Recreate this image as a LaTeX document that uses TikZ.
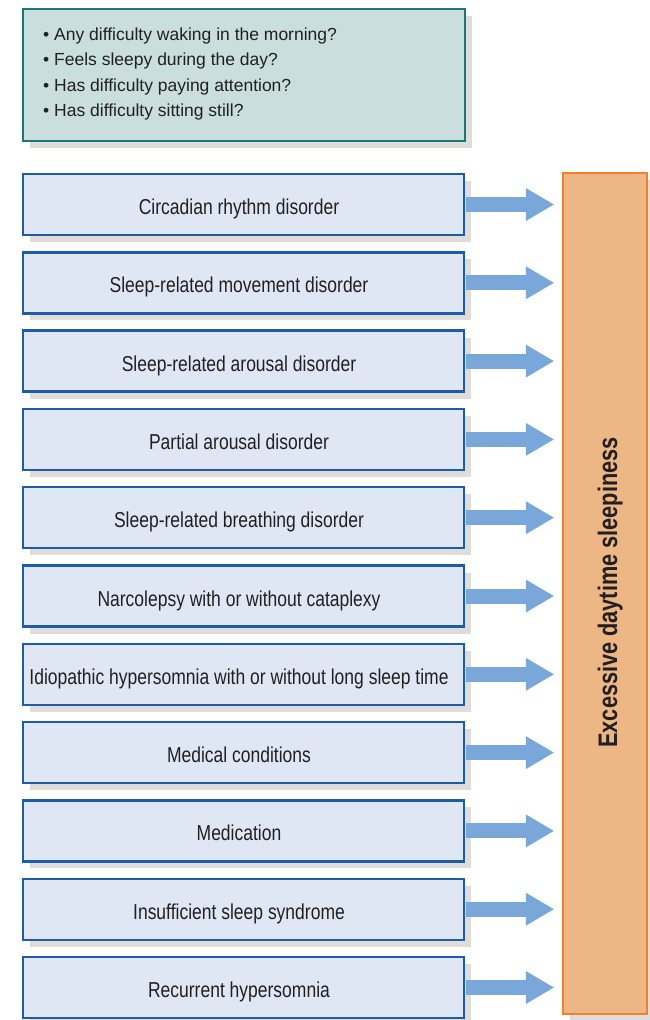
\documentclass[tikz,border=0pt]{standalone}
\usepackage{fontspec}
\setmainfont{Liberation Sans}
\newfontfamily\narrowfont{Liberation Sans}[FakeStretch=0.81]
\usetikzlibrary{shadows,arrows.meta}
\definecolor{qfill}{HTML}{C9DEDD}
\definecolor{qdraw}{HTML}{17797A}
\definecolor{cfill}{HTML}{E0E7F4}
\definecolor{cdraw}{HTML}{1E5BA8}
\definecolor{arrowblue}{HTML}{79A7D9}
\definecolor{efill}{HTML}{EDB685}
\definecolor{edraw}{HTML}{F28129}
\definecolor{shade}{HTML}{E0DCDA}
\definecolor{ink}{HTML}{231F20}
\begin{document}
\begin{tikzpicture}[x=1pt,y=-1pt,
  font=\fontsize{17.5}{21}\selectfont, text=ink,
  boxshadow/.style={drop shadow={shadow xshift=7pt, shadow yshift=-7pt, fill=shade, opacity=1}},
  question/.style={draw=qdraw, fill=qfill, line width=2.4pt, minimum width=442pt, minimum height=132pt, inner sep=0pt, boxshadow},
  qline/.style={anchor=base west, inner sep=0pt},
  cause/.style={draw=cdraw, fill=cfill, line width=2.4pt, minimum width=441pt, minimum height=61pt, inner sep=0pt,
    text height=20pt, text depth=0pt, font=\narrowfont\fontsize{21.6}{26}\selectfont, boxshadow},
  effect/.style={draw=edraw, fill=efill, line width=2.4pt, minimum width=84pt, minimum height=841pt, inner sep=0pt, boxshadow},
  effectlabel/.style={rotate=90, anchor=base, inner sep=0pt, font=\narrowfont\bfseries\fontsize{26.8}{32}\selectfont},
  flow/.style={draw=arrowblue, line width=15pt, -{Triangle[length=28pt, width=33pt, line width=0pt]}, shorten <=1.2pt, shorten >=8pt}
]
\useasboundingbox (0,0) rectangle (649,1020);

% screening questions
\node[question] (q) at (244,75) {};
\node[qline] (q1) at (43,40)   {• Any difficulty waking in the morning?};
\node[qline] (q2) at (43,65.5) {• Feels sleepy during the day?};
\node[qline] (q3) at (43,91)   {• Has difficulty paying attention?};
\node[qline] (q4) at (43,116.5){• Has difficulty sitting still?};

% outcome
\node[effect] (ex) at (605,593.5) {};
\node[effectlabel] (exl) at ([xshift=12pt,yshift=1pt]ex.center) {Excessive daytime sleepiness};

% causes
\foreach \i/\t in {0/Circadian rhythm disorder,
                   1/Sleep-related movement disorder,
                   2/Sleep-related arousal disorder,
                   3/Partial arousal disorder,
                   4/Sleep-related breathing disorder,
                   5/Narcolepsy with or without cataplexy,
                   6/Idiopathic hypersomnia with or without long sleep time,
                   7/Medical conditions,
                   8/Medication,
                   9/Insufficient sleep syndrome,
                   10/Recurrent hypersomnia}{
  \node[cause] (c\i) at (243.5,{204.5+78.3*\i}) {\hspace*{-9pt}\t};
  \draw[flow] (c\i.east) -- (c\i.east -| ex.west);
}
\end{tikzpicture}
\end{document}
